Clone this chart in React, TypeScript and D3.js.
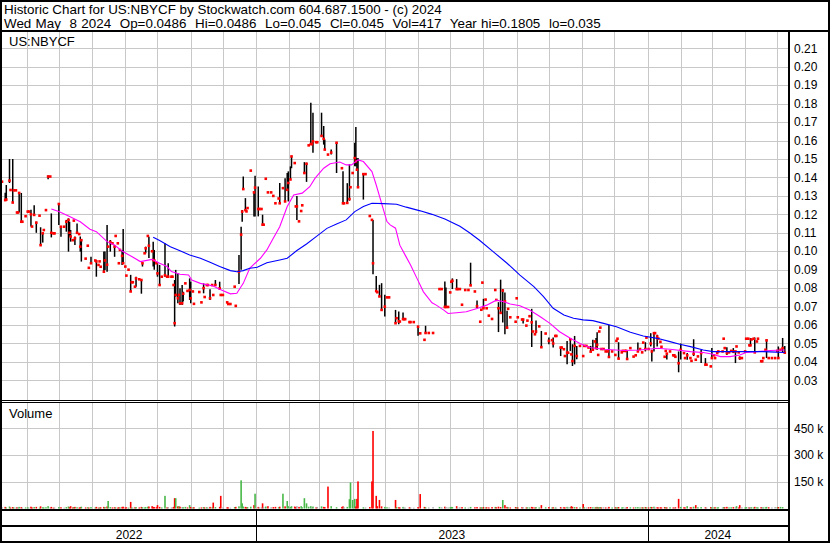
import React from "react";
import * as d3 from "d3";

// ---------------- DATA ----------------
// trading marks: day offset from 2022-05-09, high, low, close (US$), volume (thousand shares)
const dayOff = [
  0,3,4,7,8,10,11,13,14,15, 16,18,19,22,24,25,27,28,30,32, 35,36,38,39,41,43,45,46,48,49,
  53,55,58,60,62,63,64,66,67,68, 70,72,73,74,78,80,81,83,87,88, 90,91,92,95,96,98,99,101,103,105,
  106,108,109,110,112,113,115,116,118,120, 121,122,124,125,128,130,131,133,134,136, 137,140,141,142,144,145,147,149,152,154,
  155,158,159,160,161,162,164,165,166,168, 169,171,173,175,176,178,179,184,186,188, 189,191,192,194,196,197,199,203,204,206,
  210,211,213,217,218,221,223,224,225,227, 228,229,232,235,236,239,240,242,243,244, 246,248,251,253,255,258,259,262,264,266,
  267,269,270,273,274,275,277,279,280,282, 284,286,288,289,290,293,294,298,300,301, 304,307,312,317,318,319,322,324,325,327,
  329,330,331,332,337,339,343,345,346,349, 350,352,354,357,359,361,367,368,370,371, 374,375,376,380,381,384,388,390,394,395,
  398,402,408,410,413,414,416,418,419,420, 424,425,427,429,432,435,437,441,443,446, 447,448,449,451,452,454,457,460,461,463,
  465,467,469,471,472,474,479,480,481,485, 486,489,490,492,494,495,497,498,501,503, 507,510,513,514,516,517,521,522,524,525,
  527,528,530,531,532,534,536,539,542,543, 545,547,549,551,553,554,555,556,557,558, 559,561,563,565,566,569,572,573,574,575,
  578,579,581,582,583,586,589,591,593,595, 597,598,600,601,603,605,606,608,609,611, 612,614,615,618,619,620,623,626,627,628,
  631,633,636,637,639,642,643,645,647,649, 652,656,657,661,662,664,665,667,668,672, 673,674,676,678,680,682,684,685,687,688,
  690,693,694,696,697,698,699,701,702,704, 705,708,709,710,712,713,715,718,721,723, 724,726,728,730,
];
const highs = [
  .1377,.1317,.1359,.150,.1332,.150,.133,.133,.121,.121, .1317,.1316,.116,.119,.1215,.1215,.1225,.1134,.125,.116, .1193,.113,.110,.1115,.1223,.141,.1405,.1205,.1097,.1097,
  .1256,.1133,.1133,.117,.1178,.116,.1115,.106,.1166,.108, .1151,.1093,.108,.106,.096,.103,.091,.097,.095,.0953, .0926,.0945,.0916,.0999,.0999,.1142,.1025,.1061,.1043,.1034,
  .1083,.1043,.0935,.1007,.1007,.112,.0917,.0868,.090,.0872, .0832,.0832,.0808,.0862,.0848,.0844,.0935,.0989,.1025,.1083, .1079,.100,.1052,.1007,.0935,.0935,.0926,.0862,.1043,.0862,
  .0935,.0862,.0862,.0817,.0844,.0899,.0881,.0763,.0799,.0817, .0781,.0826,.0785,.0853,.0835,.0782,.0715,.0779,.0723,.0826, .0752,.0817,.0817,.0794,.0817,.0763,.0844,.0835,.0763,.0763,
  .0723,.0714,.0714,.0808,.0704,.098,.1133,.1223,.1405,.1288, .1216,.1234,.1437,.1324,.1409,.1351,.1229,.1229,.1198,.1144, .1393,.1319,.1319,.130,.126,.1286,.137,.1342,.1396,.1424,
  .1433,.146,.1514,.1478,.1243,.130,.1162,.1218,.1249,.1483, .148,.1574,.1805,.1581,.1751,.1591,.1591,.1751,.1679,.1606, .1524,.1551,.1588,.145,.1433,.126,.1369,.1472,.1347,.1424,
  .1588,.1673,.1505,.1505,.1418,.1418,.1191,.117,.117,.0866, .0778,.0818,.0827,.0764,.075,.075,.0682,.0637,.0673,.0619, .0668,.0632,.0632,.0616,.0616,.0616,.0596,.0558,.052,.0596,
  .0557,.0557,.0795,.0795,.0836,.0804,.0698,.0777,.0835,.0853, .0849,.0795,.0795,.071,.079,.079,.0938,.0782,.0733,.0618, .0683,.083,.0742,.0738,.0691,.0651,.0633,.079,.0736,.0724,
  .0846,.0795,.0777,.0677,.0688,.0642,.0618,.0745,.0642,.063, .0632,.0597,.0624,.0648,.0688,.0565,.055,.0624,.0593,.0568, .0554,.0532,.0518,.0532,.0541,.0541,.0478,.0478,.0469,.0432,
  .0514,.045,.0523,.0441,.0496,.0541,.0487,.0487,.0432,.0487, .0487,.0478,.0487,.052,.0511,.053,.0561,.0438,.0565,.0586, .047,.047,.0457,.0457,.060,.0457,.0438,.0514,.0526,.0507,
  .0452,.046,.046,.046,.046,.0475,.0429,.0436,.0505,.047, .0452,.0505,.0507,.0532,.047,.0556,.0466,.0561,.0556,.0547, .0527,.0509,.0482,.0428,.046,.0445,.0457,.0436,.0436,.0428,
  .0457,.050,.0448,.0421,.0448,.0421,.0406,.0523,.0412,.043, .0466,.0421,.0385,.0376,.0475,.0436,.0421,.0448,.0457,.0457, .0526,.0475,.048,.0452,.046,.0475,.0457,.0484,.0452,.043,
  .0421,.0457,.0526,.0526,.049,.053,.0522,.0526,.0532,.0511, .0526,.0404,.0404,.0421,.0466,.0522,.0421,.0421,.0421,.046, .0484,.0466,.053,.0486,
];
const lows = [
  .1377,.1277,.128,.137,.1332,.1264,.133,.133,.121,.121, .121,.116,.116,.119,.1215,.1215,.1134,.1134,.1197,.110, .1193,.1033,.1047,.1115,.1223,.139,.1405,.1075,.1097,.1097,
  .1142,.1079,.1133,.1106,.0998,.108,.1052,.106,.1166,.1034, .1097,.1093,.0998,.0944,.096,.103,.091,.0935,.095,.0862, .0926,.0945,.0916,.0889,.0899,.0889,.1025,.0998,.1043,.097,
  .1083,.1043,.0935,.1007,.0926,.0935,.0917,.0868,.090,.0782, .0832,.0832,.0808,.0808,.0848,.077,.0917,.0989,.0989,.1083, .0963,.100,.0917,.090,.0935,.0862,.0817,.0862,.0862,.0862,
  .0862,.0862,.0862,.0817,.0592,.0754,.0718,.0763,.0709,.0709, .0727,.0826,.0785,.0736,.0718,.0782,.0715,.0779,.0723,.0772, .0752,.0817,.0817,.0736,.0817,.0763,.0817,.079,.0763,.0763,
  .0723,.0714,.0714,.0808,.0704,.0823,.090,.116,.1337,.1223, .1216,.1234,.1437,.1189,.1189,.1189,.1229,.1229,.1144,.1144, .1393,.1319,.1319,.130,.126,.1286,.126,.1342,.127,.1333,
  .127,.1389,.145,.1478,.1243,.117,.1162,.1218,.1249,.1424, .1376,.1574,.1581,.1581,.1534,.1591,.1591,.1625,.1578,.1551, .1524,.1524,.1424,.145,.126,.126,.1262,.1274,.1347,.1424,
  .1461,.1461,.1442,.1347,.128,.1418,.1191,.117,.0875,.0784, .0778,.0755,.0682,.0646,.075,.075,.061,.0637,.0605,.0619, .0628,.0632,.0632,.0616,.0616,.0616,.0542,.0553,.052,.0555,
  .0557,.0557,.0795,.0795,.0695,.0695,.0698,.0777,.0835,.0795, .0795,.0795,.0795,.071,.079,.079,.0815,.0782,.0691,.0618, .0683,.083,.0691,.0738,.0691,.0651,.0633,.079,.0736,.0562,
  .0666,.0614,.055,.0582,.0688,.0642,.0618,.0745,.0642,.063, .0609,.0597,.0624,.0648,.0481,.0565,.055,.0555,.0593,.0478, .0554,.0496,.0518,.0478,.0541,.0541,.0432,.0478,.0469,.0432,
  .0387,.045,.0459,.0441,.0378,.0387,.0414,.0487,.0432,.0487, .0487,.0478,.0456,.0466,.0511,.047,.0466,.0438,.0565,.0586, .047,.047,.0457,.0457,.0427,.0457,.0438,.0514,.0526,.0418,
  .0452,.046,.046,.046,.0416,.0475,.0429,.0436,.0457,.047, .0452,.0505,.0457,.0532,.047,.0484,.0402,.0457,.0556,.0484, .0527,.0509,.0482,.0428,.046,.0413,.0457,.0436,.0436,.0428,
  .0344,.0413,.0448,.0421,.0412,.0421,.0406,.0432,.0412,.043, .0394,.0385,.0385,.0376,.0421,.0436,.0421,.0448,.0457,.0457, .0526,.0475,.0438,.0452,.046,.0448,.0394,.0484,.0452,.0412,
  .0421,.0457,.0526,.0526,.049,.049,.0522,.0526,.0452,.0511, .0526,.0404,.0404,.0421,.0466,.0421,.0421,.0421,.0421,.046, .0421,.0466,.0452,.045,
];
const closes = [
  .1377,.1277,.128,.1383,.1332,.1264,.133,.133,.121,.121, .1316,.116,.116,.119,.1215,.1215,.120,.1134,.1197,.1155, .1193,.1033,.1097,.1115,.1223,.1405,.1405,.110,.1097,.1097,
  .1256,.1133,.1133,.116,.117,.110,.108,.106,.1166,.107, .110,.1093,.1025,.106,.096,.103,.091,.0935,.095,.0945, .0926,.0945,.0916,.0889,.095,.0927,.1025,.105,.1043,.1025,
  .1083,.1043,.0935,.1007,.0975,.0935,.0917,.0868,.090,.0782, .0832,.0832,.0808,.0853,.0848,.0844,.0935,.0989,.1016,.1083, .103,.100,.0953,.095,.0935,.088,.0817,.0862,.087,.0862,
  .0862,.0862,.0862,.0817,.061,.0763,.0745,.0763,.0718,.0718, .077,.0826,.0785,.079,.0745,.0782,.0715,.0779,.0723,.080, .0752,.0817,.0817,.0745,.0817,.0763,.0817,.0799,.0763,.0763,
  .0723,.0714,.0714,.0808,.0704,.0889,.109,.1215,.1337,.1223, .1216,.1234,.1437,.1319,.1345,.1229,.1229,.1229,.1144,.1144, .1393,.1319,.1319,.130,.126,.1286,.126,.1342,.127,.1333,
  .137,.1389,.1514,.1478,.1243,.1243,.1162,.1218,.1249,.1424, .1474,.1574,.1581,.1581,.1596,.1591,.1591,.1625,.1609,.1551, .1524,.1535,.1588,.145,.126,.126,.1262,.1283,.1347,.1424,
  .1505,.1487,.1442,.1347,.1418,.1418,.1191,.117,.0935,.0784, .0778,.0755,.0682,.070,.075,.075,.061,.0637,.062,.0619, .0632,.0632,.0632,.0616,.0616,.0616,.0591,.0555,.052,.0557,
  .0557,.0557,.0795,.0795,.0698,.0698,.0698,.0777,.0835,.084, .0795,.0795,.0795,.071,.079,.079,.0815,.0782,.0702,.0618, .0683,.083,.0691,.0738,.0691,.0651,.0633,.079,.0736,.0691,
  .0666,.0787,.0729,.0586,.0688,.0642,.0618,.0745,.0642,.063, .063,.0597,.0624,.0648,.0615,.0565,.055,.0565,.0593,.048, .0554,.0514,.0518,.050,.0541,.0541,.0478,.0478,.0469,.0432,
  .045,.045,.0523,.0441,.0405,.0487,.0432,.0487,.0432,.0487, .0487,.0478,.0456,.0466,.0511,.0475,.0493,.0438,.0565,.0586, .047,.047,.0457,.0457,.0427,.0457,.0438,.0514,.0526,.0418,
  .0452,.046,.046,.046,.0416,.0475,.0429,.0436,.0457,.047, .0452,.0505,.047,.0532,.047,.050,.0457,.0556,.0556,.0538, .0527,.0509,.0482,.0428,.046,.0445,.0457,.0436,.0436,.0428,
  .0393,.0466,.0448,.0421,.0436,.0421,.0406,.0444,.0412,.043, .0448,.0385,.0385,.0376,.0421,.0436,.0421,.0448,.0457,.0457, .0526,.0475,.0448,.0452,.046,.0457,.0457,.0484,.0452,.0421,
  .0421,.0457,.0526,.0526,.049,.049,.0522,.0526,.0452,.0511, .0526,.0404,.0404,.0421,.0466,.0517,.0421,.0421,.0421,.046, .0421,.0466,.0475,.045,
];
const volumes = [
  7,9,6,11,5,8,6,5,7,6, 9,8,5,6,7,5,10,6,8,9, 5,12,7,6,7,13,6,9,5,6,
  8,7,5,8,11,7,13,6,8,9, 7,5,8,10,6,7,5,8,6,9, 5,6,7,9,8,11,42,8,6,7,
  6,5,7,6,9,10,6,7,5,37, 6,5,7,8,6,9,7,6,8,10, 11,13,9,8,7,19,9,6,71,7,
  8,6,5,9,58,58,12,13,10,8, 7,9,6,19,8,6,7,5,6,8, 6,7,5,9,7,33,8,9,71,6,
  7,6,5,8,9,12,158,29,11,9, 7,8,10,19,83,9,7,6,29,8, 11,13,7,8,9,7,10,83,12,42,
  13,9,13,11,8,13,9,13,7,58, 29,10,13,8,11,7,9,12,9,8, 123,13,7,9,12,7,9,52,146,48,
  54,11,54,152,7,6,8,152,435,71, 13,48,12,9,7,6,48,8,7,6, 9,6,5,7,6,5,8,81,9,7,
  6,8,9,7,10,8,6,7,9,8, 13,6,7,8,6,5,9,7,8,6, 7,5,8,6,7,6,8,9,7,10,
  8,48,19,9,7,6,8,7,6,8, 7,6,7,6,9,7,6,8,6,19, 7,8,6,7,6,5,8,6,7,6,
  9,7,8,13,9,8,7,6,25,7, 6,7,8,7,6,7,9,6,7,8, 6,7,6,5,9,6,7,6,7,8,
  6,7,5,6,8,7,6,7,8,6, 7,6,8,7,6,9,8,10,6,7, 6,7,6,8,7,6,7,6,5,7,
  54,9,7,6,13,7,6,10,19,7, 8,7,6,8,7,6,7,6,7,6, 8,7,9,6,7,8,7,13,6,19,
  7,6,8,7,6,8,7,6,9,7, 6,8,7,6,7,9,7,6,8,7, 8,9,8,0.417,
];

// moving averages (day offset, value)
const maShortDay = [46,53,63,73,82,88,98,105,112,121,129,140,147,154,158,166,174,177,185,197,203,213,219,225,231,241,247,253,259,266,272,280,287,292,300,306,315,321,326,332,337,345,349,354,359,362,367,371,376,381,387,393,401,405,412,416,424,433,443,452,461,468,474,483,492,502,511,520,530,539,548,561,580,595,611,623,642,654,662,670,679,688,694,704,716,730];
const maShortVal = [.1229,.1215,.1188,.116,.1119,.1106,.1052,.1034,.1001,.0971,.0944,.0956,.0935,.0917,.089,.0875,.0871,.0844,.0826,.0812,.0794,.0769,.0772,.0826,.0908,.0962,.1007,.1071,.1133,.1242,.1305,.1315,.135,.1396,.145,.1474,.1484,.1468,.1468,.1495,.1486,.1432,.1359,.126,.1161,.1143,.1125,.1033,.0979,.0925,.0853,.078,.0721,.0708,.0681,.0663,.0667,.0672,.069,.0708,.0735,.0726,.0714,.0705,.0681,.0645,.0609,.0564,.0528,.05,.0478,.0469,.0462,.0465,.0474,.0469,.0456,.0451,.0443,.0429,.0429,.0438,.0451,.0456,.0462,.0465];
const maLongDay = [141,147,157,166,175,185,194,203,213,219,225,231,238,247,259,266,275,284,293,303,312,321,329,337,345,356,368,377,390,401,413,427,436,445,458,471,483,496,505,514,524,533,542,551,561,573,586,598,611,623,632,642,654,663,679,694,710,722,730];
const maLongVal = [.1076,.1058,.1025,.1003,.098,.0962,.094,.0917,.0895,.0889,.0895,.0908,.0913,.0938,.0953,.0962,.1004,.1039,.1079,.1124,.1148,.117,.1215,.1242,.126,.1258,.1255,.1239,.1219,.120,.1175,.1135,.110,.1061,.0998,.0935,.0871,.0808,.0754,.0691,.0655,.0637,.0628,.0624,.0609,.0591,.0561,.0541,.0528,.051,.0496,.0483,.0465,.0456,.0456,.0456,.0456,.0453,.0451];

const priceTicks = [0.03,0.04,0.05,0.06,0.07,0.08,0.09,0.10,0.11,0.12,0.13,0.14,0.15,0.16,0.17,0.18,0.19,0.20,0.21];
const volTicks = [150, 300, 450];
const years = ["2022", "2023", "2024"];

const headerLine1 = "Historic Chart for US:NBYCF by Stockwatch.com 604.687.1500 - (c) 2024";
const headerLine2 = "Wed May  8 2024  Op=0.0486  Hi=0.0486  Lo=0.045  Cl=0.045  Vol=417  Year hi=0.1805  lo=0.035";

// ---------------- CHART ----------------
const W = 830, H = 543;
const START = new Date(2022, 4, 9);
const END = new Date(2024, 4, 11);
const FONT = "'Liberation Sans', Arial, Helvetica, sans-serif";
const GRID = "#c8c8c8";

export default function App() {
  const x = d3.scaleTime().domain([START, END]).range([2, 788]);
  const dx = (d: number) => x(d3.timeDay.offset(START, d));
  const y = d3.scaleLinear().domain([0.03, 0.21]).range([380.4, 48.3]);
  const yv = d3.scaleLinear().domain([0, 450]).range([508.5, 428.3]);
  const months = d3.timeMonth.range(d3.timeMonth.ceil(START), END);
  const yearStarts = [new Date(2023, 0, 1), new Date(2024, 0, 1)].map((d) => x(d));
  const yearBounds = [2, ...yearStarts, 788];
  const fmt = d3.format(".2f");

  const lineGen = d3
    .line<[number, number]>()
    .x((p) => dx(p[0]))
    .y((p) => y(p[1]));
  const maShort = lineGen(maShortDay.map((d, i) => [d, maShortVal[i]] as [number, number])) || "";
  const maLong = lineGen(maLongDay.map((d, i) => [d, maLongVal[i]] as [number, number])) || "";

  const volColor = (i: number) => {
    if (i === 0) return "#a8a8a8";
    if (closes[i] > closes[i - 1]) return "#48b848";
    if (closes[i] < closes[i - 1]) return "#ff0000";
    return "#a8a8a8";
  };

  return (
    <svg
      width={W}
      height={H}
      viewBox={`0 0 ${W} ${H}`}
      style={{ position: "absolute", left: 0, top: 0, background: "#fff" }}
      fontFamily={FONT}
    >
      <defs>
        <clipPath id="pclip">
          <rect x={2} y={32} width={786} height={368} />
        </clipPath>
        <clipPath id="vclip">
          <rect x={2} y={403} width={786} height={106} />
        </clipPath>
      </defs>
      <rect x={0} y={0} width={W} height={H} fill="#fff" />

      {/* header */}
      <text x={4} y={14} fontSize={13.4} fill="#000" style={{ whiteSpace: "pre" }}>
        {headerLine1}
      </text>
      <text x={4} y={28} fontSize={13.4} fill="#000" style={{ whiteSpace: "pre" }} wordSpacing={0.6}>
        {headerLine2}
      </text>

      {/* grid */}
      <g stroke={GRID} strokeWidth={1} shapeRendering="crispEdges">
        {priceTicks.map((t) => (
          <line key={"h" + t} x1={2} x2={788} y1={Math.round(y(t)) + 0.5} y2={Math.round(y(t)) + 0.5} />
        ))}
        {months.map((m) => (
          <line key={"vp" + +m} x1={Math.round(x(m)) + 0.5} x2={Math.round(x(m)) + 0.5} y1={32} y2={400} />
        ))}
        {volTicks.map((t) => (
          <line key={"vh" + t} x1={2} x2={788} y1={Math.round(yv(t)) + 0.5} y2={Math.round(yv(t)) + 0.5} />
        ))}
        {months.map((m) => (
          <line key={"vv" + +m} x1={Math.round(x(m)) + 0.5} x2={Math.round(x(m)) + 0.5} y1={403} y2={509} />
        ))}
      </g>

      <text x={9} y={46} fontSize={13} fill="#000">US:NBYCF</text>
      <text x={9} y={418} fontSize={13} fill="#000">Volume</text>

      {/* price bars */}
      <g clipPath="url(#pclip)">
        <g stroke="#000" strokeWidth={1.5}>
          {dayOff.map((d, i) =>
            highs[i] > lows[i] ? (
              <line key={"b" + i} x1={dx(d)} x2={dx(d)} y1={y(highs[i])} y2={y(lows[i])} />
            ) : null
          )}
        </g>
        <g fill="#ff0000">
          {dayOff.map((d, i) => (
            <rect key={"c" + i} x={dx(d) - 1.3} y={y(closes[i]) - 1.3} width={2.6} height={2.6} />
          ))}
        </g>
        <path d={maShort} fill="none" stroke="#ff00ff" strokeWidth={1.1} />
        <path d={maLong} fill="none" stroke="#0000ff" strokeWidth={1.1} />
      </g>

      {/* volume bars */}
      <g clipPath="url(#vclip)">
        {dayOff.map((d, i) => (
          <rect
            key={"v" + i}
            x={dx(d) - 0.8}
            y={yv(volumes[i])}
            width={1.6}
            height={Math.max(0, yv(0) - yv(volumes[i]))}
            fill={volColor(i)}
          />
        ))}
      </g>

      {/* axis labels */}
      {priceTicks.map((t) => (
        <text key={"pt" + t} x={794} y={y(t)} dy="0.35em" fontSize={12} fill="#000">
          {fmt(t)}
        </text>
      ))}
      {volTicks.map((t) => (
        <text key={"vt" + t} x={794} y={yv(t)} dy="0.35em" fontSize={12} fill="#000">
          {t + " k"}
        </text>
      ))}

      {/* frame lines */}
      <g stroke="#000" fill="none" shapeRendering="crispEdges">
        <rect x={1} y={1} width={828} height={541} strokeWidth={2} />
        <line x1={0} x2={W} y1={31} y2={31} strokeWidth={2} />
        <line x1={789} x2={789} y1={31} y2={542} strokeWidth={2} />
        <line x1={0} x2={789} y1={400.5} y2={400.5} strokeWidth={1} />
        <line x1={0} x2={789} y1={402.5} y2={402.5} strokeWidth={1} />
        <line x1={0} x2={789} y1={509.5} y2={509.5} strokeWidth={2} />
        <line x1={0} x2={789} y1={526} y2={526} strokeWidth={2} />
        {yearStarts.map((xs, i) => (
          <line key={"ys" + i} x1={Math.round(xs) + 0.5} x2={Math.round(xs) + 0.5} y1={510} y2={542} strokeWidth={1.5} />
        ))}
      </g>
      {years.map((yr, i) => (
        <text
          key={yr}
          x={(yearBounds[i] + yearBounds[i + 1]) / 2}
          y={539}
          fontSize={12}
          textAnchor="middle"
          fill="#000"
        >
          {yr}
        </text>
      ))}
    </svg>
  );
}
